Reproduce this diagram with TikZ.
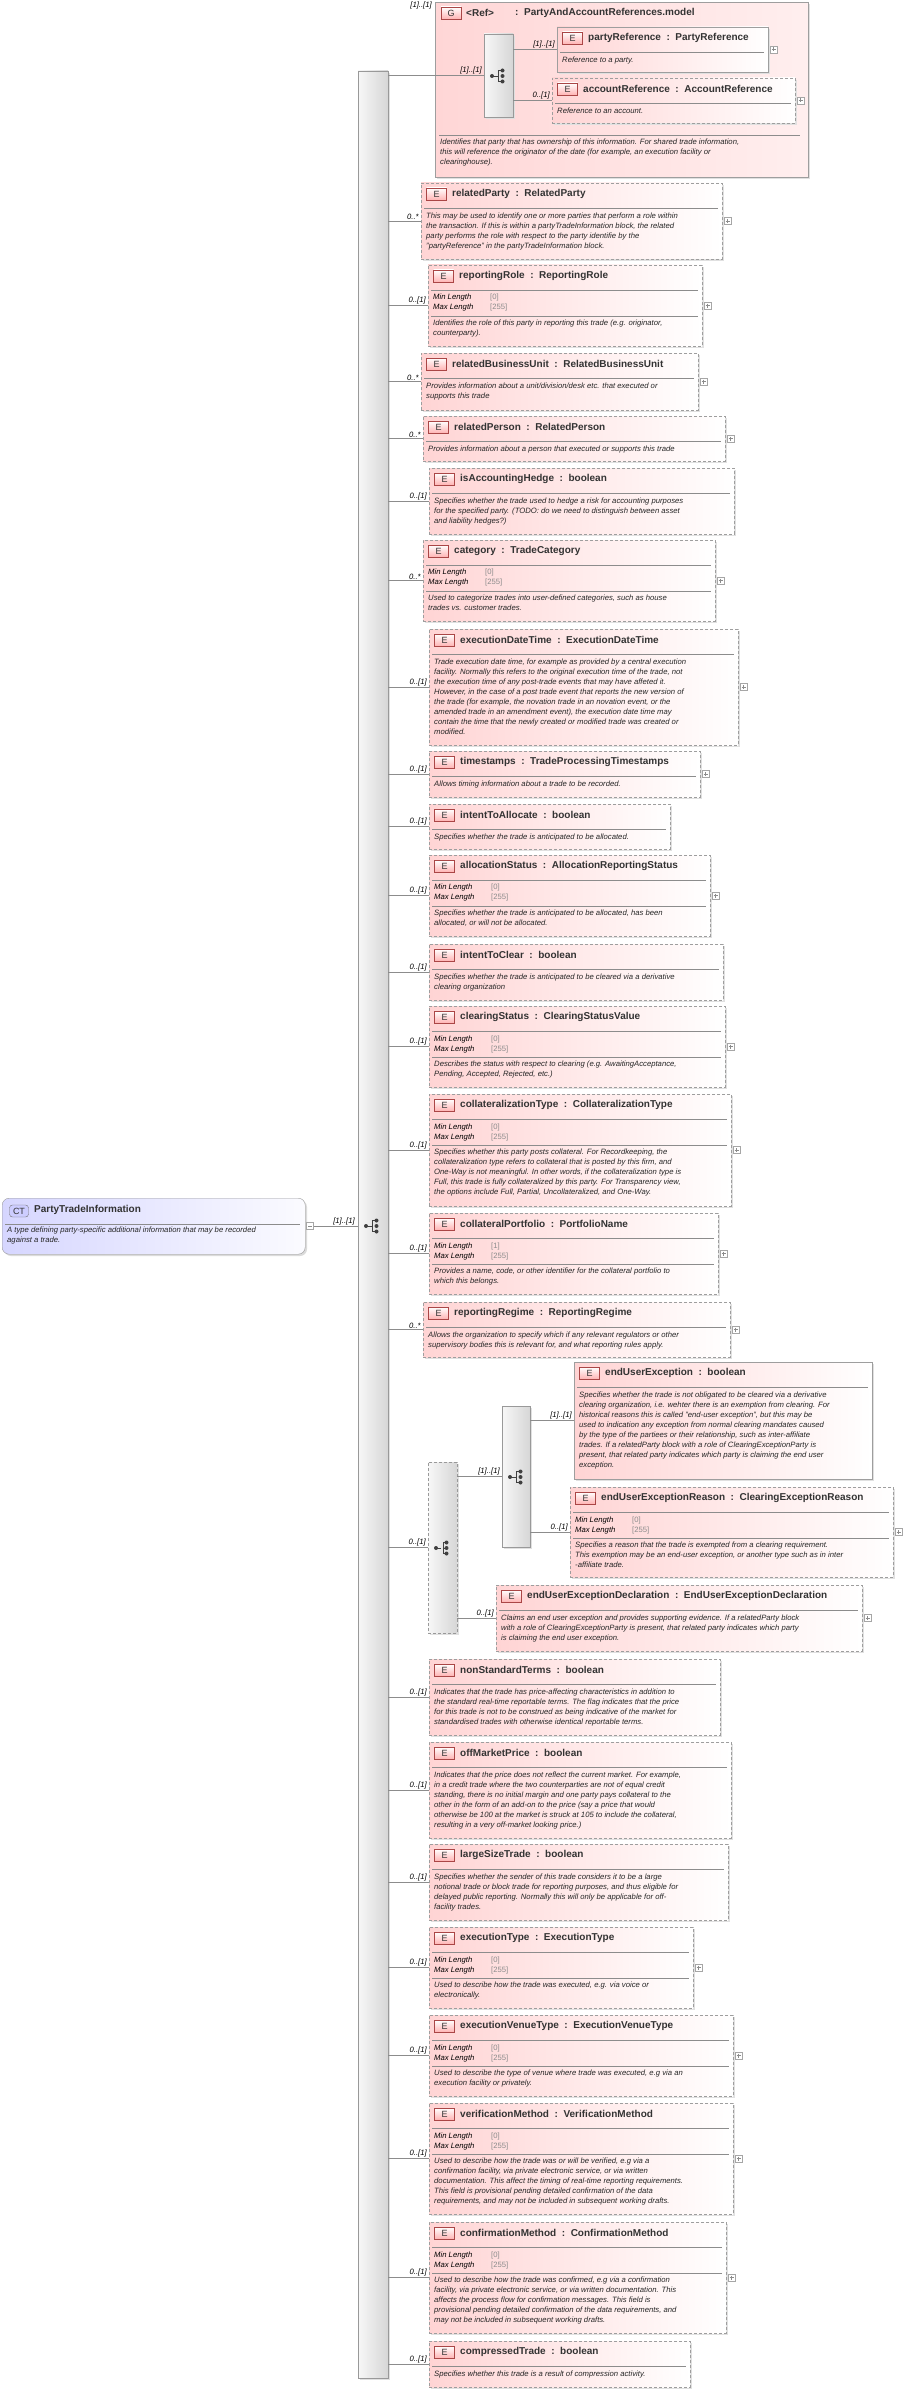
\documentclass[tikz,border=0pt]{standalone}
\usepackage{fontspec}
\setmainfont{Liberation Sans}
\definecolor{epink}{RGB}{255,212,212}
\definecolor{gpink}{RGB}{255,214,214}
\definecolor{badgeb}{RGB}{170,70,70}
\definecolor{badgef}{RGB}{255,180,180}
\definecolor{ctf}{RGB}{214,214,255}
\definecolor{txt}{RGB}{51,51,51}
\tikzset{
 ebox/.style={draw=black!38, left color=epink, right color=white, inner sep=0pt, outer sep=0pt, rectangle},
 dsh/.style={dash pattern=on 3pt off 2pt},
 sld/.style={solid},
 badge/.style={draw=badgeb, top color=white, bottom color=badgef, minimum width=20pt, minimum height=12pt, inner sep=0pt, font=\fontsize{9}{9}\selectfont, text=txt},
 ttl/.style={font=\bfseries\fontsize{10}{11}\selectfont, text=txt, inner sep=0pt, anchor=west},
 desc/.style={font=\itshape\fontsize{7.7}{10}\selectfont, text=black!85, align=left, inner sep=0pt, anchor=north west},
 fac/.style={font=\itshape\fontsize{7.7}{10}\selectfont, text=black, inner sep=0pt, anchor=west},
 facv/.style={font=\fontsize{7.7}{10}\selectfont, text=black!45, inner sep=0pt, anchor=west},
 sepl/.style={draw=black!45, line width=0.6pt},
 conn/.style={draw=black!45, line width=0.6pt},
 card/.style={font=\itshape\fontsize{7.7}{9}\selectfont, text=black, inner sep=1pt, anchor=south east},
 bar/.style={draw=black!40, left color=black!3, right color=black!16, inner sep=0pt, outer sep=0pt, rectangle},
 plusb/.style={draw=black!35, fill=white, minimum size=7pt, inner sep=0pt, path picture={\draw[black!45] ([xshift=1.5pt]path picture bounding box.west)--([xshift=-1.5pt]path picture bounding box.east) ([yshift=-1.5pt]path picture bounding box.north)--([yshift=1.5pt]path picture bounding box.south);}},
 shad/.style={fill=black!12},
}
% #1 name #2 style #3 x1 #4 y1 #5 x2 #6 y2 #7 title #8 minlen #9 desc
\newcommand\Ebox[9]{%
 \fill[shad] (#3+2,#4+2) rectangle (#5+2,#6+2);
 \node[ebox,#2,minimum width={#5-#3},minimum height={#6-#4},anchor=north west] (#1) at (#3,#4) {};
 \node[badge] at (#3+15.5,#4+11) {E};
 \node[ttl] at (#3+31,#4+11) {#7};
 \draw[sepl] (#3+3,#4+25) -- (#5-4,#4+25);
 \if\relax\detokenize{#8}\relax
  \node[desc] at (#3+5,#4+29.5) {#9};
 \else
  \node[fac] at (#3+5,#4+33) {Min Length};
  \node[fac] at (#3+5,#4+43) {Max Length};
  \node[facv] at (#3+62,#4+33) {[#8]};
  \node[facv] at (#3+62,#4+43) {[255]};
  \draw[sepl] (#3+3,#4+51) -- (#5-4,#4+51);
  \node[desc] at (#3+5,#4+55) {#9};
 \fi}
\newcommand\Plus[1]{\node[plusb] at ([xshift=5.5pt]#1.east) {};}
\newcommand\Conn[2]{\draw[conn] (mainbar.east |- #1.west) -- (#1.west) node[card,pos=1,xshift=-1pt]{#2};}
\newcommand\SeqIcon[1]{\begin{scope}[shift={(#1)}]
 \fill[black!75] (-6,0) circle (2);
 \draw[black!75,line width=0.8pt] (-6,0)--(0,0) (0,-5.5)--(0,5.5) (0,-5.5)--(4,-5.5) (0,5.5)--(4,5.5);
 \fill[black!75] (4.5,-5.5) circle (2) (4.5,0) circle (2) (4.5,5.5) circle (2);
 \end{scope}}
\newcommand\ChoIcon[1]{\begin{scope}[shift={(#1)}]
 \fill[black!75] (-6,0) circle (2);
 \draw[black!75,line width=0.8pt] (-6,0)--(-1,0) (1,-5.5)--(1,5.5) (1,-5.5)--(4,-5.5) (1,5.5)--(4,5.5) (1,0)--(4,0);
 \fill[black!75] (4.5,-5.5) circle (2) (4.5,0) circle (2) (4.5,5.5) circle (2);
 \end{scope}}
\begin{document}
\begin{tikzpicture}[x=1pt,y=-1pt]
\useasboundingbox (0,0) rectangle (915,2392);
% main bar
\fill[shad] (360,73) rectangle (390,2380);
\node[bar,minimum width=30pt,minimum height=2307pt] (mainbar) at (373,1224.5) {};
\SeqIcon{372,1226}
% CT box
\fill[black!14,rounded corners=7pt] (4,1200) rectangle (307,1256);
\node[draw=black!40, rounded corners=7pt, left color=ctf, right color=white!90!ctf, minimum width=303pt, minimum height=56pt, anchor=north west, inner sep=0pt] (ct) at (2,1198) {};
\node[draw=black!55, rounded corners=3pt, fill=ctf!80!blue!60, minimum width=19pt, minimum height=12pt, inner sep=0pt, font=\fontsize{9}{9}\selectfont, text=txt] at (19,1211) {CT};
\node[ttl] at (34,1210) {PartyTradeInformation};
\draw[sepl] (5,1224) -- (300,1224);
\node[desc] at (7,1227) {A type defining party-specific additional information that may be recorded\\against a trade.};
\node[draw=black!35, fill=white, minimum size=7pt, inner sep=0pt, path picture={\draw[black!45] ([xshift=1.5pt]path picture bounding box.west)--([xshift=-1.5pt]path picture bounding box.east);}] (ctminus) at (310,1226) {};
\draw[conn] (ctminus.east) -- (mainbar.west |- ctminus.east) node[card,pos=1,xshift=-2pt]{[1]..[1]};
% G box
\fill[shad] (437,4) rectangle (810,179);
\node[draw=black!38, left color=gpink, right color=gpink!40!white, minimum width=373pt, minimum height=175pt, anchor=north west, inner sep=0pt] (gbox) at (435,2) {};
\node[card,anchor=south east] at (433,10) {[1]..[1]};
\node[badge] at (451,13) {G};
\node[ttl] at (466,13) {<Ref>};
\node[ttl] at (515,13) {:\ \ PartyAndAccountReferences.model};
\draw[sepl] (439,135) -- (800,135);
\node[desc] at (440,139) {Identifies that party that has ownership of this information. For shared trade information,\\this will reference the originator of the date (for example, an execution facility or\\clearinghouse).};
\fill[shad] (486,36) rectangle (515,119);
\node[bar,minimum width=29pt,minimum height=83pt] (seqA) at (498.5,75.5) {};
\SeqIcon{498,76}
\draw[conn] (mainbar.east |- seqA.west) -- (seqA.west) node[card,pos=1,xshift=-1pt]{[1]..[1]};
\Ebox{pref}{sld}{557}{27}{768}{72}{partyReference\ \ :\ \ PartyReference}{}{Reference to a party.}
\Plus{pref}
\Ebox{aref}{dsh}{552}{78}{795}{123}{accountReference\ \ :\ \ AccountReference}{}{Reference to an account.}
\Plus{aref}
\draw[conn] (seqA.east |- pref.west) -- (pref.west) node[card,pos=1,xshift=-1pt]{[1]..[1]};
\draw[conn] (seqA.east |- aref.west) -- (aref.west) node[card,pos=1,xshift=-1pt]{0..[1]};
% elements
\Ebox{rp}{dsh}{421}{183}{722}{259}{relatedParty\ \ :\ \ RelatedParty}{}{This may be used to identify one or more parties that perform a role within\\the transaction. If this is within a partyTradeInformation block, the related\\party performs the role with respect to the party identifie by the\\"partyReference" in the partyTradeInformation block.}
\Plus{rp}\Conn{rp}{0..*}
\Ebox{rr}{dsh}{428}{265}{702}{346}{reportingRole\ \ :\ \ ReportingRole}{0}{Identifies the role of this party in reporting this trade (e.g. originator,\\counterparty).}
\Plus{rr}\Conn{rr}{0..[1]}
\Ebox{rbu}{dsh}{421}{353}{698}{410}{relatedBusinessUnit\ \ :\ \ RelatedBusinessUnit}{}{Provides information about a unit/division/desk etc. that executed or\\supports this trade}
\Plus{rbu}\Conn{rbu}{0..*}
\Ebox{rpe}{dsh}{423}{416}{725}{461}{relatedPerson\ \ :\ \ RelatedPerson}{}{Provides information about a person that executed or supports this trade}
\Plus{rpe}\Conn{rpe}{0..*}
\Ebox{iah}{dsh}{429}{468}{734}{534}{isAccountingHedge\ \ :\ \ boolean}{}{Specifies whether the trade used to hedge a risk for accounting purposes\\for the specified party. (TODO: do we need to distinguish between asset\\and liability hedges?)}
\Conn{iah}{0..[1]}
\Ebox{cat}{dsh}{423}{540}{715}{621}{category\ \ :\ \ TradeCategory}{0}{Used to categorize trades into user-defined categories, such as house\\trades vs. customer trades.}
\Plus{cat}\Conn{cat}{0..*}
\Ebox{edt}{dsh}{429}{629}{738}{745}{executionDateTime\ \ :\ \ ExecutionDateTime}{}{Trade execution date time, for example as provided by a central execution\\facility. Normally this refers to the original execution time of the trade, not\\the execution time of any post-trade events that may have affeted it.\\However, in the case of a post trade event that reports the new version of\\the trade (for example, the novation trade in an novation event, or the\\amended trade in an amendment event), the execution date time may\\contain the time that the newly created or modified trade was created or\\modified.}
\Plus{edt}\Conn{edt}{0..[1]}
\Ebox{ts}{dsh}{429}{751}{700}{797}{timestamps\ \ :\ \ TradeProcessingTimestamps}{}{Allows timing information about a trade to be recorded.}
\Plus{ts}\Conn{ts}{0..[1]}
\Ebox{ita}{dsh}{429}{804}{670}{849}{intentToAllocate\ \ :\ \ boolean}{}{Specifies whether the trade is anticipated to be allocated.}
\Conn{ita}{0..[1]}
\Ebox{als}{dsh}{429}{855}{710}{936}{allocationStatus\ \ :\ \ AllocationReportingStatus}{0}{Specifies whether the trade is anticipated to be allocated, has been\\allocated, or will not be allocated.}
\Plus{als}\Conn{als}{0..[1]}
\Ebox{itc}{dsh}{429}{944}{723}{1000}{intentToClear\ \ :\ \ boolean}{}{Specifies whether the trade is anticipated to be cleared via a derivative\\clearing organization}
\Conn{itc}{0..[1]}
\Ebox{cls}{dsh}{429}{1006}{725}{1087}{clearingStatus\ \ :\ \ ClearingStatusValue}{0}{Describes the status with respect to clearing (e.g. AwaitingAcceptance,\\Pending, Accepted, Rejected, etc.)}
\Plus{cls}\Conn{cls}{0..[1]}
\Ebox{colt}{dsh}{429}{1094}{731}{1206}{collateralizationType\ \ :\ \ CollateralizationType}{0}{Specifies whether this party posts collateral. For Recordkeeping, the\\collateralization type refers to collateral that is posted by this firm, and\\One-Way is not meaningful. In other words, if the collateralization type is\\Full, this trade is fully collateralized by this party. For Transparency view,\\the options include Full, Partial, Uncollateralized, and One-Way.}
\Plus{colt}\Conn{colt}{0..[1]}
\Ebox{colp}{dsh}{429}{1213}{718}{1294}{collateralPortfolio\ \ :\ \ PortfolioName}{1}{Provides a name, code, or other identifier for the collateral portfolio to\\which this belongs.}
\Plus{colp}\Conn{colp}{0..[1]}
\Ebox{rreg}{dsh}{423}{1302}{730}{1357}{reportingRegime\ \ :\ \ ReportingRegime}{}{Allows the organization to specify which if any relevant regulators or other\\supervisory bodies this is relevant for, and what reporting rules apply.}
\Plus{rreg}\Conn{rreg}{0..*}
% choice section
\fill[shad] (430,1464) rectangle (459,1635);
\node[bar,dsh,minimum width=29pt,minimum height=171pt] (choice) at (442.5,1547.5) {};
\ChoIcon{442,1548}
\fill[shad] (504,1408) rectangle (532,1549);
\node[bar,minimum width=28pt,minimum height=141pt] (seqB) at (516,1476.5) {};
\SeqIcon{516,1477}
\Conn{choice}{0..[1]}
\draw[conn] (choice.east |- seqB.west) -- (seqB.west) node[card,pos=1,xshift=-1pt]{[1]..[1]};
\Ebox{eue}{sld}{574}{1362}{872}{1479}{endUserException\ \ :\ \ boolean}{}{Specifies whether the trade is not obligated to be cleared via a derivative\\clearing organization, i.e. wehter there is an exemption from clearing. For\\historical reasons this is called "end-user exception", but this may be\\used to indication any exception from normal clearing mandates caused\\by the type of the partiees or their relationship, such as inter-affiliate\\trades. If a relatedParty block with a role of ClearingExceptionParty is\\present, that related party indicates which party is claiming the end user\\exception.}
\draw[conn] (seqB.east |- eue.west) -- (eue.west) node[card,pos=1,xshift=-1pt]{[1]..[1]};
\Ebox{euer}{dsh}{570}{1487}{893}{1577}{endUserExceptionReason\ \ :\ \ ClearingExceptionReason}{0}{Specifies a reason that the trade is exempted from a clearing requirement.\\This exemption may be an end-user exception, or another type such as in inter\\-affiliate trade.}
\Plus{euer}
\draw[conn] (seqB.east |- euer.west) -- (euer.west) node[card,pos=1,xshift=-1pt]{0..[1]};
\Ebox{eued}{dsh}{496}{1585}{862}{1651}{endUserExceptionDeclaration\ \ :\ \ EndUserExceptionDeclaration}{}{Claims an end user exception and provides supporting evidence. If a relatedParty block\\with a role of ClearingExceptionParty is present, that related party indicates which party\\is claiming the end user exception.}
\Plus{eued}
\draw[conn] (choice.east |- eued.west) -- (eued.west) node[card,pos=1,xshift=-1pt]{0..[1]};
% rest
\Ebox{nst}{dsh}{429}{1659}{720}{1735}{nonStandardTerms\ \ :\ \ boolean}{}{Indicates that the trade has price-affecting characteristics in addition to\\the standard real-time reportable terms. The flag indicates that the price\\for this trade is not to be construed as being indicative of the market for\\standardised trades with otherwise identical reportable terms.}
\Conn{nst}{0..[1]}
\Ebox{omp}{dsh}{429}{1742}{731}{1838}{offMarketPrice\ \ :\ \ boolean}{}{Indicates that the price does not reflect the current market. For example,\\in a credit trade where the two counterparties are not of equal credit\\standing, there is no initial margin and one party pays collateral to the\\other in the form of an add-on to the price (say a price that would\\otherwise be 100 at the market is struck at 105 to include the collateral,\\resulting in a very off-market looking price.)}
\Conn{omp}{0..[1]}
\Ebox{lst}{dsh}{429}{1844}{728}{1920}{largeSizeTrade\ \ :\ \ boolean}{}{Specifies whether the sender of this trade considers it to be a large\\notional trade or block trade for reporting purposes, and thus eligible for\\delayed public reporting. Normally this will only be applicable for off-\\facility trades.}
\Conn{lst}{0..[1]}
\Ebox{ext}{dsh}{429}{1927}{693}{2008}{executionType\ \ :\ \ ExecutionType}{0}{Used to describe how the trade was executed, e.g. via voice or\\electronically.}
\Plus{ext}\Conn{ext}{0..[1]}
\Ebox{evt}{dsh}{429}{2015}{733}{2096}{executionVenueType\ \ :\ \ ExecutionVenueType}{0}{Used to describe the type of venue where trade was executed, e.g via an\\execution facility or privately.}
\Plus{evt}\Conn{evt}{0..[1]}
\Ebox{vm}{dsh}{429}{2103}{733}{2214}{verificationMethod\ \ :\ \ VerificationMethod}{0}{Used to describe how the trade was or will be verified, e.g via a\\confirmation facility, via private electronic service, or via written\\documentation. This affect the timing of real-time reporting requirements.\\This field is provisional pending detailed confirmation of the data\\requirements, and may not be included in subsequent working drafts.}
\Plus{vm}\Conn{vm}{0..[1]}
\Ebox{cm}{dsh}{429}{2222}{726}{2333}{confirmationMethod\ \ :\ \ ConfirmationMethod}{0}{Used to describe how the trade was confirmed, e.g via a confirmation\\facility, via private electronic service, or via written documentation. This\\affects the process flow for confirmation messages. This field is\\provisional pending detailed confirmation of the data requirements, and\\may not be included in subsequent working drafts.}
\Plus{cm}\Conn{cm}{0..[1]}
\Ebox{ct2}{dsh}{429}{2341}{690}{2387}{compressedTrade\ \ :\ \ boolean}{}{Specifies whether this trade is a result of compression activity.}
\Conn{ct2}{0..[1]}
\end{tikzpicture}
\end{document}
